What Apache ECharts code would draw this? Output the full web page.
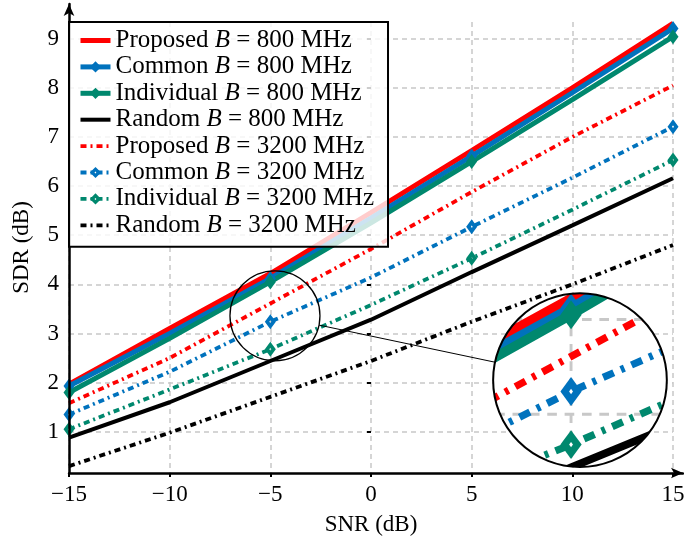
<!DOCTYPE html>
<html><head><meta charset="utf-8">
<script src="https://cdn.jsdelivr.net/npm/echarts@6/dist/echarts.min.js"></script>
<style>html,body{margin:0;padding:0;background:#fff}#c{width:684px;height:540px}</style>
</head><body><div id="c"></div>
<script>
// ---- data ----
const snr = [-15, -10, -5, 0, 5, 10, 15];
const proposed800   = [1.97, 3.10, 4.22, 5.46, 6.72, 8.00, 9.31];
const common800     = [1.93, 3.00, 4.12, 5.35, 6.61, 7.90, 9.21];
const individual800 = [1.80, 2.90, 4.05, 5.25, 6.50, 7.76, 9.04];
const random800     = [0.88, 1.60, 2.44, 3.28, 4.25, 5.20, 6.16];
const proposed3200  = [1.58, 2.50, 3.61, 4.72, 5.88, 7.00, 8.05];
const common3200    = [1.35, 2.22, 3.24, 4.14, 5.17, 6.17, 7.21];
const individual3200= [1.05, 1.86, 2.68, 3.58, 4.53, 5.52, 6.53];
const random3200    = [0.30, 0.98, 1.71, 2.44, 3.24, 4.00, 4.80];
const xTicks = [-15, -10, -5, 0, 5, 10, 15];
const yTicks = [1, 2, 3, 4, 5, 6, 7, 8, 9];
const names = [
  'Proposed B = 800 MHz', 'Common B = 800 MHz', 'Individual B = 800 MHz', 'Random B = 800 MHz',
  'Proposed B = 3200 MHz', 'Common B = 3200 MHz', 'Individual B = 3200 MHz', 'Random B = 3200 MHz'
];
const values = [proposed800, common800, individual800, random800,
                proposed3200, common3200, individual3200, random3200];

// ---- styles ----
const FONT = 'Liberation Serif';
const RED = '#ff0000', BLUE = '#0072bd', GREEN = '#00886e', BLACK = '#000000';
const GRID_C = '#c8c8c8';
const DASH = [6, 4, 2, 4];
const Y_MIN = 0.16, Y_MAX = 9.34;
const HOLLOW = 'path://M0,-10L7,0L0,10L-7,0Z M0,-1.8L-1.3,0L0,1.8L1.3,0Z';
const MS = [11, 15];
const defs = [
  {color: RED,   width: 5,   dash: 'solid', marker: null},
  {color: BLUE,  width: 5,   dash: 'solid', marker: 'filled'},
  {color: GREEN, width: 5,   dash: 'solid', marker: 'filled'},
  {color: BLACK, width: 4,   dash: 'solid', marker: null},
  {color: RED,   width: 3.8, dash: DASH,    marker: null},
  {color: BLUE,  width: 3.8, dash: DASH,    marker: 'hollow'},
  {color: GREEN, width: 3.8, dash: DASH,    marker: 'hollow'},
  {color: BLACK, width: 3.8, dash: DASH,    marker: null}
];
// spy (magnifier) decoration, in data coordinates
const spyCenter = [-4.77, 3.36];
const bigCenter = [10.38, 2.05];
const SPY_R = 45, MAG = 1.93;

const lineSeries = defs.map((d, k) => ({
  name: names[k],
  type: 'line',
  xAxisIndex: 0, yAxisIndex: 0,
  symbol: d.marker === 'filled' ? 'diamond' : (d.marker === 'hollow' ? HOLLOW : 'none'),
  symbolSize: MS,
  showSymbol: true,
  data: snr.map((x, i) => (i % 2 === 0 ? [x, values[k][i]] : {value: [x, values[k][i]], symbol: 'none'})),
  lineStyle: {color: d.color, width: d.width, type: d.dash, cap: 'butt'},
  itemStyle: {color: d.color, borderWidth: 0},
  emphasis: {disabled: true},
  z: 2
}));

const legendData = defs.map((d, k) => (d.marker ? {name: names[k]} :
  {name: names[k], itemStyle: {opacity: 0}}));

function renderSpy(params, api) {
  const c = api.coord(spyCenter);
  const b = api.coord(bigCenter);
  const inner = [];
  xTicks.forEach(gx => {
    const p1 = api.coord([gx, Y_MIN]), p2 = api.coord([gx, Y_MAX]);
    inner.push({type: 'line', shape: {x1: p1[0], y1: p1[1], x2: p2[0], y2: p2[1]},
      style: {stroke: GRID_C, lineWidth: 1.5, lineDash: [5, 4]}});
  });
  yTicks.forEach(gy => {
    const p1 = api.coord([-15, gy]), p2 = api.coord([15, gy]);
    inner.push({type: 'line', shape: {x1: p1[0], y1: p1[1], x2: p2[0], y2: p2[1]},
      style: {stroke: GRID_C, lineWidth: 1.5, lineDash: [5, 4]}});
  });
  defs.forEach((d, k) => {
    const pts = snr.map((x, i) => api.coord([x, values[k][i]]));
    inner.push({type: 'polyline', shape: {points: pts},
      style: {stroke: d.color, lineWidth: d.width, lineDash: d.dash === 'solid' ? null : d.dash, fill: null}});
    if (d.marker) {
      pts.forEach((p, i) => {
        if (i % 2) return;
        const w = MS[0] / 2, h = MS[1] / 2;
        inner.push({type: 'polygon', shape: {points: [[p[0], p[1] - h], [p[0] + w, p[1]], [p[0], p[1] + h], [p[0] - w, p[1]]]},
          style: {fill: d.color}});
        if (d.marker === 'hollow') {
          inner.push({type: 'polygon', shape: {points: [[p[0], p[1] - 1.4], [p[0] + 1, p[1]], [p[0], p[1] + 1.4], [p[0] - 1, p[1]]]},
            style: {fill: '#fff'}});
        }
      });
    }
  });
  const rb = SPY_R * MAG;
  const dx = b[0] - c[0], dy = b[1] - c[1], L = Math.sqrt(dx * dx + dy * dy);
  const ux = dx / L, uy = dy / L;
  return {
    type: 'group',
    children: [
      {type: 'circle', shape: {cx: b[0], cy: b[1], r: rb}, style: {fill: '#fff'}},
      {type: 'group', x: b[0] - MAG * c[0], y: b[1] - MAG * c[1], scaleX: MAG, scaleY: MAG,
        clipPath: {type: 'circle', shape: {cx: c[0], cy: c[1], r: SPY_R}},
        children: inner},
      {type: 'circle', shape: {cx: b[0], cy: b[1], r: rb}, style: {fill: null, stroke: '#000', lineWidth: 2}},
      {type: 'circle', shape: {cx: c[0], cy: c[1], r: SPY_R}, style: {fill: null, stroke: '#000', lineWidth: 1.3}},
      {type: 'line', shape: {x1: c[0] + ux * SPY_R, y1: c[1] + uy * SPY_R, x2: b[0] - ux * rb, y2: b[1] - uy * rb},
        style: {stroke: '#000', lineWidth: 1}}
    ]
  };
}

const chart = echarts.init(document.getElementById('c'), null, {renderer: 'canvas'});
chart.setOption({
  animation: false,
  backgroundColor: '#fff',
  textStyle: {fontFamily: FONT},
  grid: [
    {left: 69, right: 11, top: 22, bottom: 67, outerBoundsMode: 'none', containLabel: false},
    {left: 69, right: 1, top: 4, bottom: 67, outerBoundsMode: 'none', containLabel: false}
  ],
  xAxis: [
    {gridIndex: 0, type: 'value', min: -15, max: 15, interval: 5,
      name: 'SNR (dB)', nameLocation: 'middle', nameGap: 40,
      nameTextStyle: {fontFamily: FONT, fontSize: 23, color: '#000'},
      axisLine: {show: false},
      axisTick: {show: true, length: 4, lineStyle: {color: '#000', width: 2}},
      axisLabel: {fontFamily: FONT, fontSize: 23, color: '#000', margin: 10,
        formatter: v => String(v).replace('-', '\u2212')},
      splitLine: {show: true, lineStyle: {color: GRID_C, width: 1.5, type: [5, 4]}}},
    {gridIndex: 1, type: 'value', min: 0, max: 1, z: 3,
      axisLine: {show: true, onZero: false, lineStyle: {color: '#000', width: 2.5}, symbol: ['none', 'arrow'], symbolSize: [8, 12]},
      axisTick: {show: false}, axisLabel: {show: false}, splitLine: {show: false}}
  ],
  yAxis: [
    {gridIndex: 0, type: 'value', min: Y_MIN, max: Y_MAX,
      name: 'SDR (dB)', nameLocation: 'middle', nameGap: 36,
      nameTextStyle: {fontFamily: FONT, fontSize: 23, color: '#000'},
      axisLine: {show: false},
      axisTick: {show: true, customValues: yTicks, length: 4, lineStyle: {color: '#000', width: 2}},
      axisLabel: {customValues: yTicks, fontFamily: FONT, fontSize: 23, color: '#000', margin: 10},
      splitLine: {show: true, lineStyle: {color: GRID_C, width: 1.5, type: [5, 4]}}},
    {gridIndex: 1, type: 'value', min: 0, max: 1, z: 3,
      axisLine: {show: true, onZero: false, lineStyle: {color: '#000', width: 2.5}, symbol: ['none', 'arrow'], symbolSize: [8, 12]},
      axisTick: {show: false}, axisLabel: {show: false}, splitLine: {show: false}}
  ],
  legend: {
    data: legendData,
    orient: 'vertical',
    left: 69, top: 22,
    padding: [6, 14, 9, 9],
    itemWidth: 30, itemHeight: 14, itemGap: 1.4,
    backgroundColor: 'rgba(255,255,255,0.8)',
    borderColor: '#000', borderWidth: 2, borderRadius: 0,
    lineStyle: {width: 'inherit'},
    selectedMode: false,
    formatter: function (name) {
      const parts = name.split(' B ');
      return '{n|' + parts[0] + ' }{i|B}{n| ' + parts[1] + '}';
    },
    textStyle: {
      fontFamily: FONT, fontSize: 25, color: '#000', lineHeight: 21,
      rich: {
        n: {fontFamily: FONT, fontSize: 25, color: '#000', lineHeight: 21},
        i: {fontFamily: FONT, fontSize: 25, color: '#000', fontStyle: 'italic', lineHeight: 21}
      }
    },
    z: 6
  },
  series: lineSeries.concat([{
    name: 'spy', type: 'custom', xAxisIndex: 0, yAxisIndex: 0,
    data: [[0, 0]], renderItem: renderSpy, clip: false, z: 3, silent: true
  }])
});
</script></body></html>
